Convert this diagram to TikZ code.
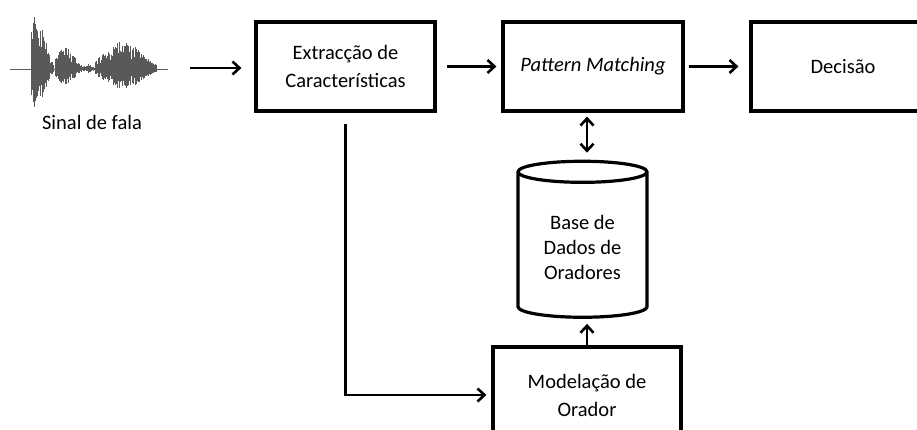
\documentclass[tikz,border=0pt]{standalone}
\usepackage{fontspec}
\setmainfont{Carlito}
\usetikzlibrary{shapes.geometric,arrows.meta}
\begin{document}
\begin{tikzpicture}[x=1pt,y=-1pt,
    blk/.style={draw,line width=3.2pt,minimum width=179pt,minimum height=89pt,align=center,font=\fontsize{20.5}{28}\selectfont},
    flow/.style={line width=2.6pt,-{Straight Barb[length=7pt,width=13pt]}},
    both/.style={line width=2.6pt,{Straight Barb[length=7pt,width=13pt]}-{Straight Barb[length=7pt,width=13pt]}},
    wave/.style={line width=0.4pt,black!65}]
    \clip (0,0) rectangle (917,430);
    % speech signal
    \pgfmathsetseed{7}
    \draw[wave] (10,69) -- (168,69);
    \foreach \c/\w/\a/\s/\e in {37/10/56/31/53, 65/12/21/55/82, 88/5/4/82/95, 122/25/27/95/156}{
      \pgfmathsetmacro\t{\s+0.5}
      \foreach \x in {\s,\t,...,\e}{
        \pgfmathsetmacro\h{\a*exp(-((\x-\c)/\w)^2)*(0.3+0.7*rnd)+1}
        \draw[wave] (\x,{69-\h}) -- (\x,{69+0.72*\h});
      }
    }
    \node[font=\fontsize{20.5}{28}\selectfont] (lbl) at (92,122) {Sinal de fala};
    \coordinate (sig) at (190,68);
    % blocks
    \node[blk] (extr) at (345.5,66.5) {Extracção de\\Características};
    \node[blk,minimum width=180pt] (patt) at (593,66.5) {\textit{Pattern Matching}};
    \node[blk,minimum width=184pt] (dec) at (843,66.5) {Decisão};
    \node[blk,minimum width=188pt,minimum height=96pt] (model) at (587,395) {Modelação de\\Orador};
    \node[draw,cylinder,shape border rotate=90,aspect=0.25,minimum width=129pt,minimum height=156pt,
      line width=3.2pt,align=center,font=\fontsize{20.5}{25}\selectfont] (base) at (582.5,247) {Base de\\Dados de\\Oradores};
    % connectors
    \draw[flow,shorten >=13pt] (sig) -- (sig -| extr.west);
    \draw[flow,shorten <=10pt,shorten >=5pt] (extr) -- (patt);
    \draw[flow,shorten <=4pt,shorten >=11pt] (patt) -- (dec);
    \draw[both,shorten <=4pt,shorten >=7pt] (patt.south -| model) -- (base.north -| model);
    \draw[flow,shorten >=5pt] (model.north) -- (base.south -| model.north);
    \draw[flow,shorten <=11pt,shorten >=5pt] (extr.south) |- (model.west);
\end{tikzpicture}
\end{document}
